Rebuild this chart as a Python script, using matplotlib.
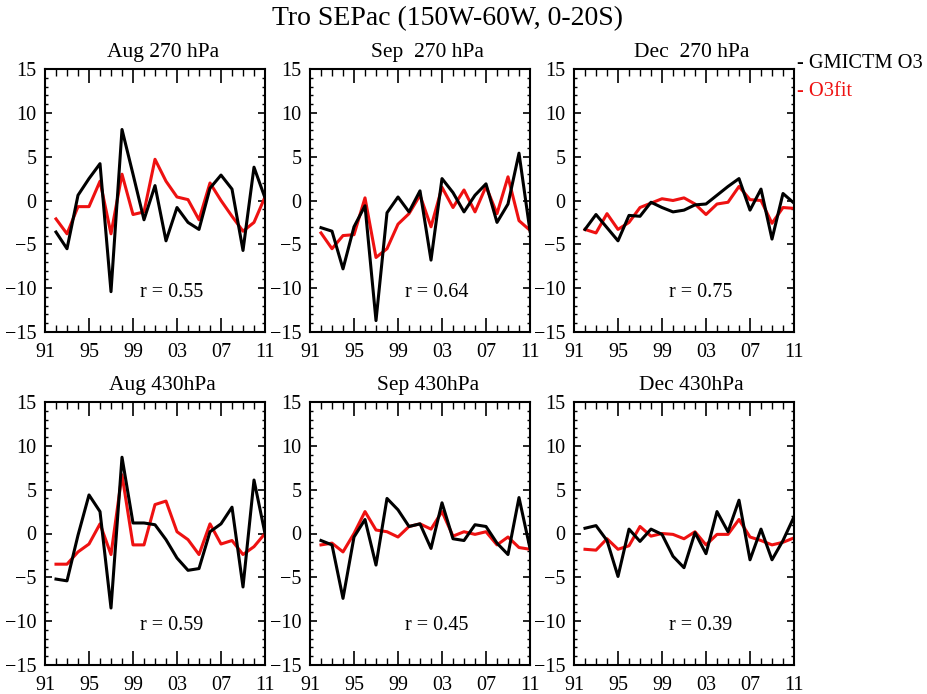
import matplotlib
matplotlib.use('Agg')
import matplotlib.pyplot as plt
from matplotlib.ticker import MultipleLocator, FixedLocator

plt.rcParams['font.family'] = ['Liberation Serif', 'DejaVu Serif']

years = [1992, 1993, 1994, 1995, 1996, 1997, 1998, 1999, 2000, 2001,
         2002, 2003, 2004, 2005, 2006, 2007, 2008, 2009, 2010, 2011]
xticks = [1991, 1995, 1999, 2003, 2007, 2011]
xticklabels = ['91', '95', '99', '03', '07', '11']

# GMI CTM ozone anomalies (black) and regression fit (red)
aug270_ctm = [-3.6, -5.5, 0.6, 2.5, 4.2, -10.4, 8.1, 3.0, -2.2, 1.7,
              -4.6, -0.8, -2.5, -3.3, 1.4, 2.9, 1.3, -5.7, 3.8, 0.3]
aug270_fit = [-2.1, -3.8, -0.7, -0.7, 2.2, -3.8, 3.0, -1.6, -1.3, 4.7,
              2.2, 0.4, 0.1, -2.2, 2.0, 0.0, -1.8, -3.5, -2.5, 0.4]
sep270_ctm = [-3.1, -3.5, -7.8, -3.0, -0.6, -13.7, -1.4, 0.4, -1.3, 1.1,
              -6.8, 2.5, 0.9, -1.3, 0.6, 1.9, -2.5, -0.4, 5.4, -3.5]
sep270_fit = [-3.7, -5.5, -4.0, -3.9, 0.3, -6.5, -5.5, -2.7, -1.5, 0.6,
              -3.0, 1.5, -0.8, 1.2, -1.3, 1.6, -1.5, 2.7, -2.3, -3.4]
dec270_ctm = [-3.3, -1.6, -3.1, -4.6, -1.7, -1.8, -0.2, -0.8, -1.3, -1.1,
              -0.5, -0.4, 0.6, 1.6, 2.5, -1.1, 1.3, -4.4, 0.8, -0.3]
dec270_fit = [-3.3, -3.7, -1.5, -3.3, -2.5, -0.8, -0.3, 0.2, 0.0, 0.3,
              -0.4, -1.6, -0.4, -0.2, 1.6, 0.1, 0.0, -2.6, -0.8, -0.9]
aug430_ctm = [-5.2, -5.4, -0.2, 4.4, 2.5, -8.5, 8.7, 1.2, 1.2, 1.0,
              -0.7, -2.8, -4.2, -4.0, 0.2, 1.1, 3.0, -6.1, 6.1, 0.0]
aug430_fit = [-3.5, -3.5, -2.1, -1.2, 1.1, -2.4, 6.7, -1.3, -1.3, 3.3,
              3.7, 0.2, -0.7, -2.4, 1.1, -1.2, -0.8, -2.4, -1.5, 0.0]
sep430_ctm = [-0.8, -1.3, -7.4, -0.4, 1.6, -3.6, 4.0, 2.7, 0.8, 1.1,
              -1.7, 3.5, -0.6, -0.8, 1.0, 0.8, -1.1, -2.4, 4.1, -1.7]
sep430_fit = [-1.3, -1.1, -2.1, 0.0, 2.5, 0.4, 0.2, -0.4, 0.8, 1.1,
              0.5, 2.5, -0.3, 0.2, -0.1, 0.2, -1.3, -0.4, -1.6, -1.8]
dec430_ctm = [0.6, 0.9, -0.8, -4.9, 0.5, -0.9, 0.5, -0.1, -2.6, -3.9,
              0.1, -2.3, 2.5, 0.2, 3.8, -3.0, 0.5, -3.0, -0.8, 1.9]
dec430_fit = [-1.8, -1.9, -0.6, -1.8, -1.4, 0.8, -0.3, 0.0, -0.1, -0.6,
              0.2, -1.3, -0.1, -0.1, 1.6, -0.4, -0.8, -1.3, -1.0, -0.5]

titles = ['Aug 270 hPa', 'Sep  270 hPa', 'Dec  270 hPa',
          'Aug 430hPa', 'Sep 430hPa', 'Dec 430hPa']
r_values = ['0.55', '0.64', '0.75', '0.59', '0.45', '0.39']
ctm = [aug270_ctm, sep270_ctm, dec270_ctm, aug430_ctm, sep430_ctm, dec430_ctm]
fit = [aug270_fit, sep270_fit, dec270_fit, aug430_fit, sep430_fit, dec430_fit]

fig = plt.figure(figsize=(9.28, 6.94), dpi=100)

lefts = [45, 310, 574]
tops = [69, 402]
w, h = 220, 263

for i in range(6):
    row, col = divmod(i, 3)
    ax = fig.add_axes([lefts[col] / 928, 1 - (tops[row] + h) / 694, w / 928, h / 694])
    ax.plot(years, fit[i], color='#ee1111', lw=2.2)
    ax.plot(years, ctm[i], color='black', lw=2.2)
    ax.set_xlim(1991, 2011)
    ax.set_ylim(-15, 15)
    ax.xaxis.set_major_locator(FixedLocator(xticks))
    ax.set_xticklabels(xticklabels)
    ax.xaxis.set_minor_locator(MultipleLocator(1))
    ax.yaxis.set_major_locator(MultipleLocator(5))
    ax.yaxis.set_minor_locator(MultipleLocator(1))
    ax.tick_params(which='both', direction='in', top=True, right=True, labelsize=14.5)
    ax.tick_params(axis='x', which='major', length=10, width=1.2, pad=8)
    ax.tick_params(axis='x', which='minor', length=5, width=1.0)
    ax.tick_params(axis='y', which='major', length=5, width=1.2, pad=6)
    ax.tick_params(axis='y', which='minor', length=2.5, width=1.0)
    for s in ax.spines.values():
        s.set_linewidth(1.5)
    ax.text(0.535, 1.025, titles[i], transform=ax.transAxes, ha='center', va='bottom', fontsize=15.5)
    ax.text(0.575, -10.5, 'r = ' + r_values[i], transform=ax.get_yaxis_transform(),
            ha='center', va='center', fontsize=14.5)

fig.text(448 / 928, 1 - 19 / 694, 'Tro SEPac (150W-60W, 0-20S)', ha='center', va='center', fontsize=20)
fig.text(797 / 928, 1 - 63 / 694, '- GMICTM O3', ha='left', va='center', fontsize=14.7, color='black')
fig.text(797 / 928, 1 - 92 / 694, '- O3fit', ha='left', va='center', fontsize=14.7, color='#ee1111')

fig.savefig('out.png', dpi=100)
